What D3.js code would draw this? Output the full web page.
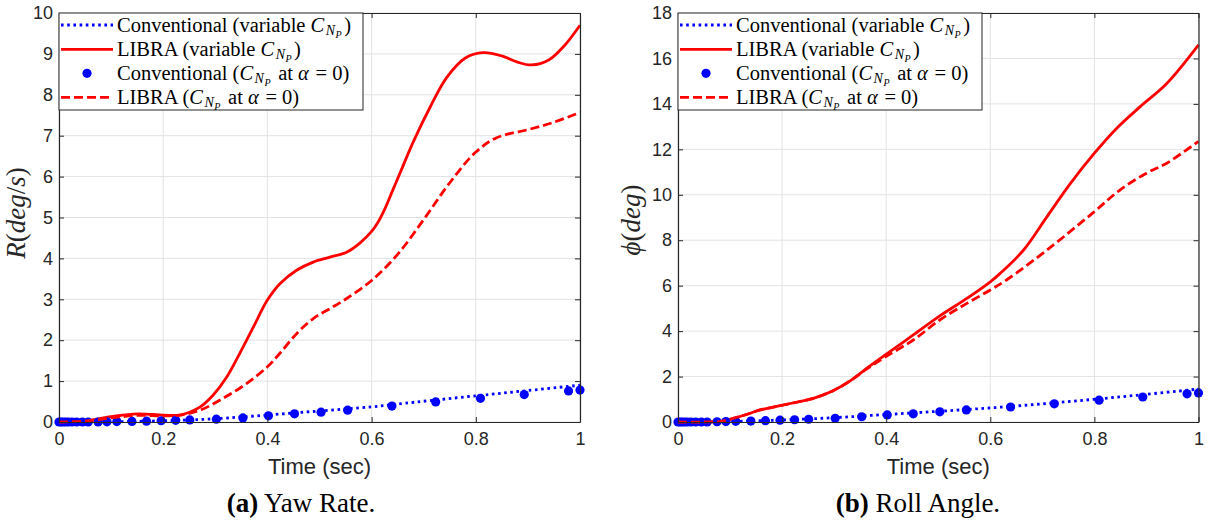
<!DOCTYPE html>
<html><head><meta charset="utf-8">
<script src="https://cdn.jsdelivr.net/npm/d3@7"></script>
<style>body{margin:0;background:#fff}</style>
</head><body>
<svg id="chart" width="1209" height="523"></svg>
<script>
// ---------- data ----------
const xTicks = [0, 0.2, 0.4, 0.6, 0.8, 1];
const yawTicks = [0,1,2,3,4,5,6,7,8,9,10];
const rollTicks = [0,2,4,6,8,10,12,14,16,18];

// time stamps of the markers (solver steps)
const dotT = [0,0.004,0.008,0.013,0.018,0.025,0.034,0.045,0.056,0.075,0.092,0.111,0.14,0.168,0.196,0.224,0.251,0.302,0.353,0.402,0.452,0.503,0.554,0.639,0.723,0.809,0.893,0.978,1.0];

// (a) yaw rate
const yawConvVarT = [0,0.1,0.2,0.25,0.3,0.4,0.5,0.6,0.65,0.8,0.9,1.0];
const yawConvVarV = [0,0.005,0.03,0.05,0.08,0.17,0.27,0.37,0.44,0.64,0.77,0.9];
const yawLibraVarT = [0,0.05,0.1,0.15,0.2,0.232,0.271,0.296,0.322,0.347,0.373,0.4,0.424,0.456,0.488,0.52,0.552,0.578,0.6,0.612,0.625,0.64,0.655,0.68,0.712,0.744,0.78,0.814,0.85,0.88,0.907,0.94,0.97,1.0];
const yawLibraVarV = [0,0.03,0.13,0.2,0.17,0.17,0.37,0.66,1.1,1.68,2.32,2.98,3.38,3.71,3.91,4.03,4.15,4.38,4.66,4.88,5.2,5.65,6.1,6.85,7.69,8.42,8.9,9.03,8.95,8.8,8.73,8.85,9.2,9.7];
const yawConvA0V = [0,0,0,0,0,0,0,0,0,0,0.005,0.01,0.015,0.02,0.03,0.04,0.05,0.07,0.1,0.15,0.2,0.24,0.29,0.39,0.49,0.58,0.67,0.76,0.78];
const yawLibraA0T = [0,0.05,0.1,0.15,0.2,0.232,0.271,0.315,0.36,0.4,0.424,0.456,0.488,0.52,0.552,0.6,0.65,0.7,0.75,0.8,0.84,0.904,0.95,1.0];
const yawLibraA0V = [0,0.02,0.1,0.16,0.15,0.17,0.29,0.58,0.94,1.35,1.68,2.16,2.53,2.77,3.02,3.46,4.1,4.95,5.85,6.6,6.95,7.16,7.33,7.57];

// (b) roll angle
const rollConvVarT = [0,0.1,0.2,0.3,0.4,0.5,0.6,0.7,0.8,0.9,1.0];
const rollConvVarV = [0,0.02,0.09,0.19,0.33,0.47,0.62,0.8,1.0,1.22,1.45];
const rollLibraVarT = [0,0.05,0.08,0.1,0.13,0.158,0.196,0.23,0.26,0.298,0.33,0.365,0.401,0.452,0.503,0.555,0.6,0.619,0.664,0.709,0.754,0.8,0.843,0.888,0.939,1.0];
const rollLibraVarV = [0,0,0.02,0.12,0.32,0.53,0.72,0.88,1.04,1.38,1.8,2.4,3.0,3.83,4.67,5.44,6.17,6.54,7.57,9.04,10.5,11.83,12.93,13.88,14.9,16.6];
const rollConvA0V = [0,0,0,0,0,0,0,0,0,0.01,0.02,0.03,0.04,0.06,0.08,0.1,0.12,0.16,0.23,0.31,0.36,0.45,0.53,0.66,0.8,0.96,1.1,1.24,1.28];
const rollLibraA0T = [0,0.05,0.08,0.1,0.13,0.158,0.196,0.23,0.26,0.298,0.33,0.365,0.401,0.452,0.503,0.555,0.6,0.631,0.709,0.8,0.849,0.9,0.939,1.0];
const rollLibraA0V = [0,0,0.02,0.12,0.32,0.53,0.72,0.88,1.04,1.38,1.8,2.37,2.9,3.61,4.49,5.22,5.81,6.25,7.57,9.26,10.21,10.95,11.39,12.35];

const legendLabels = [
  [["Conventional (variable ","n"],["C","i"],["N","s1"],["P","s2"],[")","r"]],
  [["LIBRA (variable ","n"],["C","i"],["N","s1"],["P","s2"],[")","r"]],
  [["Conventional (","n"],["C","i"],["N","s1"],["P","s2"],[" at ","r"],["α","i"],[" = 0)","n"]],
  [["LIBRA (","n"],["C","i"],["N","s1"],["P","s2"],[" at ","r"],["α","i"],[" = 0)","n"]]
];

// ---------- drawing ----------
const svg = d3.select("#chart");
const BLUE = "#0000ff", RED = "#ff0000", AX = "#262626";
const SERIF = "'Liberation Serif','Times New Roman',serif";
const SANS = "'Liberation Sans',Arial,sans-serif";

function panel(o) {
  const x = d3.scaleLinear([0, 1], [o.x0, o.x1]);
  const y = d3.scaleLinear([0, o.ymax], [o.y1, o.y0]);
  const g = svg.append("g");
  // grid
  g.append("g").selectAll("line").data(xTicks).join("line")
    .attr("x1", d => x(d)).attr("x2", d => x(d)).attr("y1", o.y0).attr("y2", o.y1)
    .attr("stroke", "#e3e3e3").attr("stroke-width", 1);
  g.append("g").selectAll("line").data(o.yTicks).join("line")
    .attr("y1", d => y(d)).attr("y2", d => y(d)).attr("x1", o.x0).attr("x2", o.x1)
    .attr("stroke", "#e3e3e3").attr("stroke-width", 1);

  const line = d3.line().x(d => x(d[0])).y(d => y(d[1])).curve(d3.curveCatmullRom.alpha(0.5));
  g.append("path").datum(d3.zip(o.convT, o.convV)).attr("d", line)
    .attr("fill", "none").attr("stroke", BLUE).attr("stroke-width", 2.8).attr("stroke-dasharray", "2.6,3.6");
  g.append("path").datum(d3.zip(o.libT, o.libV)).attr("d", line)
    .attr("fill", "none").attr("stroke", RED).attr("stroke-width", 2.8);
  g.append("g").selectAll("circle").data(d3.zip(dotT, o.dotV)).join("circle")
    .attr("cx", d => x(d[0])).attr("cy", d => y(d[1])).attr("r", 4.6).attr("fill", BLUE);
  g.append("path").datum(d3.zip(o.lib0T, o.lib0V)).attr("d", line)
    .attr("fill", "none").attr("stroke", RED).attr("stroke-width", 2.8).attr("stroke-dasharray", "9,4");

  // axes (inward ticks, box)
  const styleAxis = sel => {
    sel.selectAll("path.domain").attr("stroke", AX).attr("stroke-width", 1.2);
    sel.selectAll(".tick line").attr("stroke", AX).attr("stroke-width", 1);
    sel.selectAll("text").attr("fill", AX).style("font-family", SANS).style("font-size", "18px");
  };
  g.append("g").attr("transform", `translate(0,${o.y1})`)
    .call(d3.axisBottom(x).tickValues(xTicks).tickFormat(d3.format("~g")).tickSizeInner(-5).tickSizeOuter(0).tickPadding(10))
    .call(styleAxis);
  g.append("g").attr("transform", `translate(0,${o.y0})`)
    .call(d3.axisTop(x).tickValues(xTicks).tickFormat("").tickSizeInner(-5).tickSizeOuter(0))
    .call(styleAxis);
  g.append("g").attr("transform", `translate(${o.x0},0)`)
    .call(d3.axisLeft(y).tickValues(o.yTicks).tickFormat(d3.format("d")).tickSizeInner(-5).tickSizeOuter(0).tickPadding(6))
    .call(styleAxis);
  g.append("g").attr("transform", `translate(${o.x1},0)`)
    .call(d3.axisRight(y).tickValues(o.yTicks).tickFormat("").tickSizeInner(-5).tickSizeOuter(0))
    .call(styleAxis);

  // axis titles
  g.append("text").attr("x", (o.x0 + o.x1) / 2).attr("y", 474).attr("text-anchor", "middle")
    .style("font-family", SANS).style("font-size", "22px").attr("fill", AX).text("Time (sec)");
  const yl = g.append("text").attr("transform", `translate(${o.ylx},${o.yly}) rotate(-90)`)
    .attr("text-anchor", "middle").style("font-family", SERIF).style("font-size", o.ylsize).attr("fill", AX);
  o.ylabel.forEach(([t, s]) => yl.append("tspan").style("font-style", s === "i" ? "italic" : "normal").text(t));

  // legend
  const lg = g.append("g");
  lg.append("rect").attr("x", o.x0).attr("y", o.y0).attr("width", 304).attr("height", 97)
    .attr("fill", "#fff").attr("stroke", AX).attr("stroke-width", 1);
  const rows = [25, 49.3, 73.3, 97.3];
  const lx0 = o.x0 + 2, lx1 = o.x0 + 54;
  lg.append("line").attr("x1", lx0).attr("x2", lx1).attr("y1", rows[0]).attr("y2", rows[0])
    .attr("stroke", BLUE).attr("stroke-width", 2.8).attr("stroke-dasharray", "2.6,3.6");
  lg.append("line").attr("x1", lx0).attr("x2", lx1).attr("y1", rows[1]).attr("y2", rows[1])
    .attr("stroke", RED).attr("stroke-width", 2.8);
  lg.append("circle").attr("cx", (lx0 + lx1) / 2).attr("cy", rows[2]).attr("r", 4.6).attr("fill", BLUE);
  lg.append("line").attr("x1", lx0).attr("x2", lx1).attr("y1", rows[3]).attr("y2", rows[3])
    .attr("stroke", RED).attr("stroke-width", 2.8).attr("stroke-dasharray", "9,4");
  legendLabels.forEach((parts, i) => {
    const t = lg.append("text").attr("x", o.x0 + 58).attr("y", rows[i] + 6.5)
      .style("font-family", SERIF).style("font-size", "20.5px").attr("fill", "#000");
    let level = 0;
    parts.forEach(([s, k]) => {
      const ts = t.append("tspan").text(s);
      if (k === "i") ts.style("font-style", "italic");
      if (k === "s1") { ts.style("font-style", "italic").style("font-size", "14px").attr("dy", 3.5).attr("dx", 1.5); level = 3.5; }
      if (k === "s2") { ts.style("font-style", "italic").style("font-size", "10px").attr("dy", 2.5).attr("dx", 0.5); level += 2.5; }
      if (k === "r") { ts.attr("dy", -level).attr("dx", 2.5); level = 0; }
      if (s === " = 0)") ts.attr("dx", 1.5);
    });
  });

  // caption
  const cap = g.append("text").attr("x", o.capx).attr("y", 512).attr("text-anchor", "middle")
    .style("font-family", SERIF).style("font-size", "27px").attr("fill", "#000");
  cap.append("tspan").style("font-weight", "bold").text(o.capA);
  cap.append("tspan").text(o.capB);
}

panel({x0: 59, x1: 580, y0: 13, y1: 422, ymax: 10, yTicks: yawTicks,
  convT: yawConvVarT, convV: yawConvVarV, libT: yawLibraVarT, libV: yawLibraVarV,
  dotV: yawConvA0V, lib0T: yawLibraA0T, lib0V: yawLibraA0V,
  ylabel: [["R","i"],["(","n"],["deg","i"],["/","n"],["s","i"],[")","n"]], ylx: 25, yly: 213, ylsize: "27px",
  capx: 301, capA: "(a)", capB: " Yaw Rate."});
panel({x0: 678, x1: 1198.5, y0: 13, y1: 422, ymax: 18, yTicks: rollTicks,
  convT: rollConvVarT, convV: rollConvVarV, libT: rollLibraVarT, libV: rollLibraVarV,
  dotV: rollConvA0V, lib0T: rollLibraA0T, lib0V: rollLibraA0V,
  ylabel: [["ϕ","i"],["(","n"],["deg","i"],[")","n"]], ylx: 640, yly: 220, ylsize: "27px",
  capx: 918, capA: "(b)", capB: " Roll Angle."});
</script>
</body></html>
